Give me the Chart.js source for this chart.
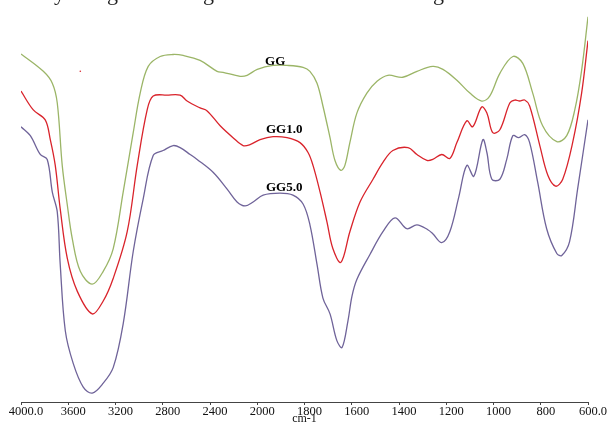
<!DOCTYPE html>
<html>
<head>
<meta charset="utf-8">
<script src="https://cdn.jsdelivr.net/npm/chart.js@4/dist/chart.umd.min.js"></script>
<style>
  body { margin: 0; background: #fff; }
  canvas { display: block; }
</style>
</head>
<body>
<canvas id="ftirChart" width="611" height="424"></canvas>
<script>
// Wavenumber ticks (cm-1): 400 steps above 2000, 200 steps below
const tickValues = [4000, 3600, 3200, 2800, 2400, 2000, 1800, 1600, 1400, 1200, 1000, 800, 600];

// GG
const ggWave = [4000, 3811, 3735, 3693, 3651, 3608, 3566, 3498, 3397, 3304, 3219, 3135, 3050, 2991, 2923, 2822, 2712, 2627, 2484, 2340, 2289, 2145, 2086, 2000, 1933, 1874, 1806, 1777, 1747, 1722, 1692, 1671, 1646, 1629, 1608, 1578, 1536, 1493, 1447, 1384, 1324, 1257, 1214, 1155, 1100, 1050, 1016, 973, 918, 876, 834, 792, 732, 690, 656, 627, 600];
const ggT = [87.9, 83.5, 80.5, 75.5, 59.75, 49.75, 41.25, 33, 29.75, 33, 38.75, 53, 68, 78, 84.75, 87.25, 87.75, 87.5, 86.25, 83.5, 83.25, 82.25, 82.5, 84, 85, 85, 84.5, 83.5, 80.5, 74.75, 66.75, 61, 58.5, 59.75, 65.5, 73, 78, 81, 82.5, 82, 83.5, 84.75, 84, 81.25, 78, 76, 77.25, 83, 87.25, 85.5, 78, 69.75, 65.75, 67.25, 73.75, 83.75, 97.25];

// GG1.0
const gg1Wave = [4000, 3896, 3795, 3752, 3710, 3668, 3608, 3524, 3397, 3304, 3219, 3101, 3016, 2932, 2881, 2763, 2653, 2594, 2484, 2424, 2314, 2205, 2120, 2061, 1988, 1933, 1874, 1819, 1785, 1764, 1734, 1705, 1680, 1646, 1608, 1565, 1510, 1468, 1426, 1362, 1324, 1282, 1257, 1219, 1185, 1155, 1113, 1088, 1050, 1028, 1003, 973, 931, 910, 889, 868, 847, 804, 770, 737, 707, 665, 627, 600];
const gg1T = [78.5, 73.75, 71.25, 66.25, 59.75, 48.75, 36.25, 28, 22.25, 25.5, 31.25, 43, 59.75, 73.75, 77.25, 77.5, 77.5, 76, 74.25, 73.5, 69.75, 66.75, 64.75, 65, 66.25, 67, 66.75, 65.5, 63, 59.75, 53, 45.5, 38.75, 35.25, 43, 50.5, 56.25, 60.5, 63.5, 64.25, 62.5, 61, 61.25, 62.5, 61.5, 65.5, 71, 69.5, 74.5, 73, 68, 68.75, 75.5, 76.25, 76, 76.25, 74.75, 64.75, 57.25, 54.5, 56.25, 65.5, 78, 91.25];

// GG5.0
const gg5Wave = [4000, 3921, 3837, 3778, 3735, 3693, 3668, 3625, 3558, 3473, 3397, 3304, 3219, 3135, 3050, 2966, 2881, 2797, 2712, 2653, 2568, 2509, 2374, 2255, 2171, 2103, 2035, 1975, 1904, 1849, 1806, 1777, 1747, 1722, 1692, 1663, 1641, 1616, 1599, 1578, 1523, 1468, 1417, 1367, 1324, 1278, 1257, 1219, 1185, 1147, 1113, 1083, 1045, 1028, 1007, 973, 944, 918, 893, 868, 847, 813, 775, 732, 711, 678, 644, 600];
const gg5T = [69.5, 67.25, 62.5, 61.25, 53, 48, 34.75, 18, 9.75, 3.75, 2.25, 4.75, 8.75, 19.75, 38, 51.25, 62.25, 63.5, 64.75, 64.25, 62.5, 61.25, 58, 53.75, 50.5, 49.5, 50.5, 52.25, 52.75, 52.25, 50, 44.75, 34.75, 26.25, 22.25, 15.5, 13.75, 20.5, 26.75, 31, 37.25, 43, 46.5, 43.75, 44.75, 43.5, 42.5, 40.25, 43, 51.75, 59.75, 57, 66.25, 63, 56.25, 56.25, 61.25, 67.25, 66.75, 67.5, 65.5, 55.5, 43.75, 37.5, 37, 40.5, 53.75, 71.25];

// stray red speck in the original scan
const speckWave = [3498];
const speckT = [83.5];

const seriesNames = ['GG', 'GG1.0', 'GG5.0'];
const seriesColors = ['#9bb567', '#d9232b', '#6f6399'];
// where each name sits, in data units (wavenumber, T)
const nameWave = [1967, 1963, 1963];
const nameT = [86, 68.9, 54.1];

// slot on the broken axis: 0..5 for 4000..2000, 5..12 for 2000..600
function toSlot(w) {
    return w >= 2000 ? (4000 - w) / 400 : 5 + (2000 - w) / 200;
}

class BrokenAxis extends Chart.LinearScale {
    buildTicks() {
        return tickValues.map(value => ({ value }));
    }
    getPixelForValue(value) {
        return this.getPixelForDecimal(toSlot(value) / 12);
    }
    getValueForPixel(pixel) {
        const s = this.getDecimalForPixel(pixel) * 12;
        return s <= 5 ? 4000 - s * 400 : 2000 - (s - 5) * 200;
    }
}
BrokenAxis.id = 'broken';
BrokenAxis.defaults = Chart.LinearScale.defaults;
Chart.register(BrokenAxis);

function points(wave, t) {
    return wave.map((w, i) => ({ x: w, y: t[i] }));
}

const lineStyle = {
    pointRadius: 0,
    borderWidth: 1.3,
    tension: 0.35,
    fill: false
};

// series names + the clipped caption line from the page above
const annotations = {
    id: 'annotations',
    afterDatasetsDraw(chart) {
        const { ctx, scales } = chart;
        ctx.save();
        ctx.fillStyle = '#000';
        ctx.font = 'bold 13px "Liberation Serif"';
        ctx.textAlign = 'left';
        ctx.textBaseline = 'middle';
        seriesNames.forEach((name, i) => {
            ctx.fillText(name, scales.x.getPixelForValue(nameWave[i]), scales.y.getPixelForValue(nameT[i]));
        });
        ctx.font = '22px "Liberation Serif"';
        ctx.textBaseline = 'alphabetic';
        ctx.fillStyle = '#222';
        [['y', 54], ['g', 107], ['g', 203], ['g', 433]].forEach(([ch, x]) => ctx.fillText(ch, x, 0));
        ctx.restore();
    }
};

const ctx = document.getElementById('ftirChart').getContext('2d');
new Chart(ctx, {
    type: 'line',
    data: {
        datasets: [
            { label: seriesNames[0], data: points(ggWave, ggT), borderColor: seriesColors[0], ...lineStyle },
            { label: seriesNames[1], data: points(gg1Wave, gg1T), borderColor: seriesColors[1], ...lineStyle },
            { label: seriesNames[2], data: points(gg5Wave, gg5T), borderColor: seriesColors[2], ...lineStyle },
            { label: 'speck', data: points(speckWave, speckT), showLine: false, pointRadius: 0.8, pointBorderWidth: 0, pointBackgroundColor: seriesColors[1] }
        ]
    },
    options: {
        responsive: false,
        animation: false,
        layout: { padding: { left: 21, right: 23, top: 0, bottom: 0 } },
        scales: {
            x: {
                type: 'broken',
                min: 600,
                max: 4000,
                afterFit: scale => { scale.height = 22; },
                border: { display: true, color: '#444', width: 1 },
                grid: { display: true, drawOnChartArea: false, drawTicks: true, tickLength: 3, color: '#444' },
                ticks: {
                    autoSkip: false,
                    maxRotation: 0,
                    padding: -1,
                    labelOffset: 5,
                    color: '#111',
                    font: { family: '"Liberation Serif"', size: 12.5 },
                    callback: v => (v === 4000 || v === 600) ? v.toFixed(1) : String(v)
                },
                title: {
                    display: true,
                    text: 'cm-1',
                    color: '#111',
                    font: { family: '"Liberation Serif"', size: 12 },
                    padding: { top: 0, bottom: -2 }
                }
            },
            y: {
                display: false,
                min: 0,
                max: 100.5
            }
        },
        plugins: {
            legend: { display: false },
            tooltip: { enabled: false }
        }
    },
    plugins: [annotations]
});
</script>
</body>
</html>
